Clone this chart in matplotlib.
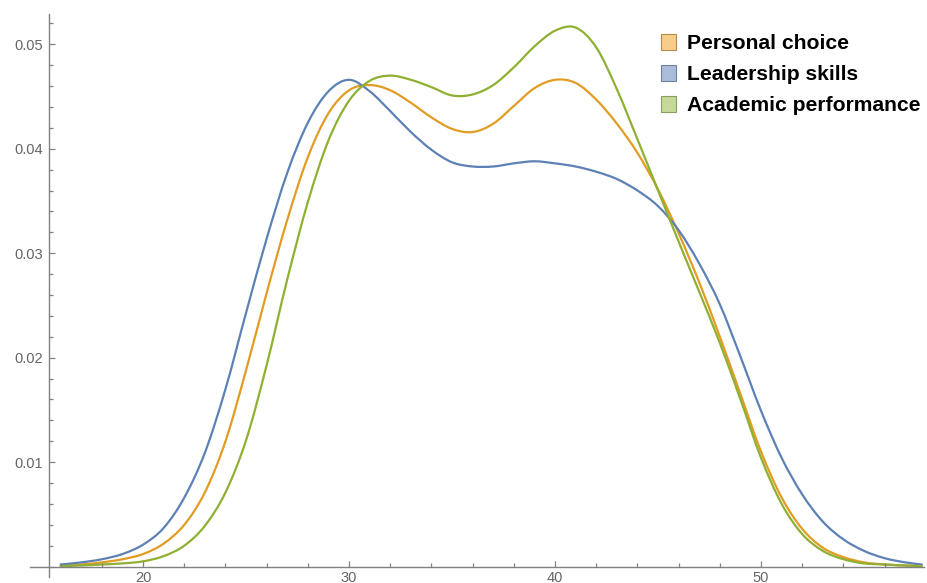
import matplotlib
matplotlib.use("Agg")
import matplotlib.pyplot as plt
import numpy as np
from matplotlib.patches import Patch, PathPatch
from matplotlib.path import Path
from matplotlib.ticker import MultipleLocator

# Smoothed density of age by reason, sampled at these ages
ages = [16, 17, 18, 19, 20, 21, 22, 23, 24, 25, 26, 27, 28, 29, 30, 31, 32, 33,
        34, 35, 36, 37, 38, 39, 40, 41, 42, 43, 44, 45, 46, 47, 48, 49, 50, 51,
        52, 53, 54, 55, 56, 57, 57.8]

personal_choice = [0.0001, 0.0002, 0.0004, 0.0007, 0.0012, 0.0022, 0.0040, 0.0071,
                   0.0120, 0.0188, 0.0262, 0.0332, 0.0392, 0.0434, 0.0456, 0.0461,
                   0.0456, 0.0444, 0.0430, 0.0419, 0.0416, 0.0424, 0.0441, 0.0458,
                   0.0466, 0.0463, 0.0447, 0.0424, 0.0396, 0.0361, 0.0319, 0.0272,
                   0.0220, 0.0165, 0.0110, 0.0066, 0.0036, 0.0018, 0.0009, 0.0004,
                   0.0002, 0.0001, 0.00005]

leadership_skills = [0.0002, 0.0004, 0.0007, 0.0012, 0.0021, 0.0037, 0.0066, 0.0109,
                     0.0170, 0.0243, 0.0314, 0.0377, 0.0425, 0.0455, 0.0466, 0.0455,
                     0.0436, 0.0416, 0.0399, 0.0387, 0.0383, 0.0383, 0.0386, 0.0388,
                     0.0386, 0.0383, 0.0378, 0.0371, 0.0360, 0.0345, 0.0322, 0.0290,
                     0.0251, 0.0201, 0.0149, 0.0104, 0.0069, 0.0043, 0.0026, 0.0015,
                     0.0008, 0.0004, 0.0002]

academic_performance = [0.00005, 0.0001, 0.0002, 0.0003, 0.0005, 0.0010, 0.0020, 0.0039,
                        0.0071, 0.0121, 0.0193, 0.0275, 0.0349, 0.0408, 0.0446, 0.0465,
                        0.0470, 0.0466, 0.0459, 0.0451, 0.0452, 0.0461, 0.0478, 0.0498,
                        0.0513, 0.0516, 0.0497, 0.0457, 0.0409, 0.0360, 0.0311, 0.0263,
                        0.0214, 0.0160, 0.0104, 0.0060, 0.0031, 0.0015, 0.0007, 0.0003,
                        0.0002, 0.0001, 0.00005]

series_names = ["Personal choice", "Leadership skills", "Academic performance"]
line_colors = ["#E19C24", "#5E81B5", "#8FB032"]
swatch_fill = ["#F7CD8C", "#A9BDDB", "#C5DA9A"]
swatch_edge = ["#B58A4A", "#6F82A0", "#8A9E5E"]

x_ticks = [20, 30, 40, 50]
y_ticks = [0.01, 0.02, 0.03, 0.04, 0.05]
y_tick_labels = ["0.01", "0.02", "0.03", "0.04", "0.05"]


def smooth_path(xs, ys):
    """Cubic Bezier path through every sample (Catmull-Rom tangents)."""
    p = np.column_stack([xs, ys]).astype(float)
    n = len(p)
    verts = [p[0]]
    codes = [Path.MOVETO]
    for i in range(n - 1):
        p0 = p[i - 1] if i > 0 else p[i]
        p1, p2 = p[i], p[i + 1]
        p3 = p[i + 2] if i + 2 < n else p[i + 1]
        c1 = p1 + (p2 - p0) / 6.0
        c2 = p2 - (p3 - p1) / 6.0
        verts += [c1, c2, p2]
        codes += [Path.CURVE4] * 3
    return Path(verts, codes)


fig = plt.figure(figsize=(9.27, 5.83), dpi=100)
ax = fig.add_axes([30 / 927, 6 / 583, 894 / 927, 563 / 583])

for vals, col in zip([personal_choice, leadership_skills, academic_performance], line_colors):
    ax.add_patch(PathPatch(smooth_path(ages, vals), facecolor="none", edgecolor=col,
                           lw=1.6, capstyle="round", joinstyle="round",
                           transform=ax.transData))

ax.set_xlim(14.51, 57.91)
ax.set_ylim(-0.0010, 0.0529)

axis_gray = "#808080"
for side in ["top", "right"]:
    ax.spines[side].set_visible(False)
ax.spines["left"].set_position(("data", 15.41))
ax.spines["bottom"].set_position(("data", 0))
for side in ["left", "bottom"]:
    ax.spines[side].set_color(axis_gray)
    ax.spines[side].set_linewidth(1.0)

ax.set_xticks(x_ticks)
ax.set_xticklabels([str(t) for t in x_ticks])
ax.set_yticks(y_ticks)
ax.set_yticklabels(y_tick_labels)
ax.xaxis.set_minor_locator(MultipleLocator(2))
ax.yaxis.set_minor_locator(MultipleLocator(0.002))
ax.tick_params(which="both", direction="in", color=axis_gray, width=0.9,
               labelcolor="#666666", labelsize=10.5)
ax.tick_params(which="major", length=4.5)
ax.tick_params(which="minor", length=2.6)
ax.tick_params(axis="x", pad=3)
ax.tick_params(axis="y", pad=4)
for lab in ax.get_xticklabels() + ax.get_yticklabels():
    lab.set_fontfamily("Liberation Sans")

handles = [Patch(facecolor=f, edgecolor=e, linewidth=0.8)
           for f, e in zip(swatch_fill, swatch_edge)]
leg = fig.legend(handles, series_names, loc="upper left",
                 bbox_to_anchor=(646 / 927, 1 - 19.5 / 583), frameon=False,
                 handlelength=0.74, handleheight=0.74, handletextpad=0.5,
                 labelspacing=0.57, borderpad=0.2,
                 prop={"family": "Liberation Sans", "weight": "bold", "size": 15.2})

fig.savefig("out.png", dpi=100)
